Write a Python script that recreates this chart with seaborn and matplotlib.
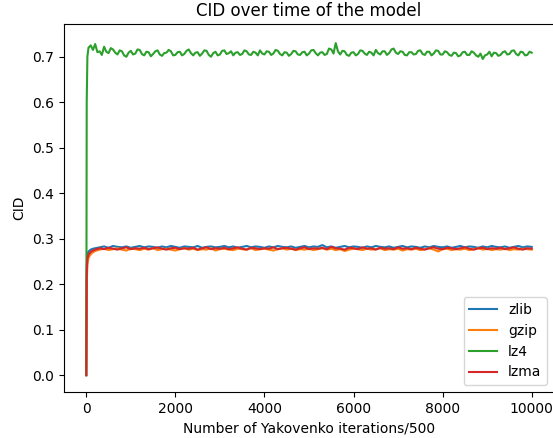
import matplotlib
matplotlib.use("Agg")
import matplotlib.pyplot as plt
import seaborn as sns
import pandas as pd

# ---- data ----
iterations = [0, 10, 25, 50, 100, 150, 200] + list(range(300, 10001, 100))
lz4_iterations = [0, 10, 25, 50, 100, 150, 200, 250] + list(range(300, 10001, 50))

zlib = [0.0, 0.240, 0.265, 0.272, 0.276, 0.278, 0.279,
    0.281,0.283,0.280,0.284,0.282,0.281,0.283,0.280,0.282,0.284,
    0.281,0.283,0.282,0.280,0.283,0.281,0.284,0.282,0.280,0.283,
    0.282,0.281,0.284,0.280,0.282,0.283,0.281,0.282,0.284,0.281,
    0.283,0.280,0.282,0.284,0.281,0.283,0.282,0.280,0.283,0.281,
    0.284,0.282,0.281,0.283,0.280,0.282,0.284,0.281,0.283,0.282,
    0.286,0.281,0.283,0.280,0.282,0.284,0.281,0.283,0.282,0.280,
    0.283,0.281,0.284,0.282,0.281,0.283,0.280,0.282,0.284,0.281,
    0.283,0.282,0.280,0.283,0.281,0.284,0.282,0.281,0.283,0.280,
    0.282,0.284,0.281,0.283,0.282,0.280,0.283,0.281,0.284,0.282,
    0.281,0.283,0.280,0.282,0.284,0.281,0.283,0.282]

gzip = [0.0, 0.200, 0.245, 0.258, 0.266, 0.270, 0.273,
    0.276,0.278,0.275,0.277,0.279,0.276,0.274,0.278,0.277,0.275,
    0.278,0.276,0.279,0.275,0.277,0.278,0.276,0.274,0.277,0.279,
    0.276,0.278,0.275,0.277,0.276,0.279,0.274,0.277,0.278,0.276,
    0.275,0.278,0.277,0.276,0.279,0.275,0.277,0.278,0.276,0.274,
    0.277,0.279,0.276,0.278,0.275,0.277,0.276,0.278,0.275,0.277,
    0.279,0.276,0.278,0.275,0.277,0.273,0.276,0.278,0.277,0.275,
    0.278,0.276,0.277,0.279,0.275,0.277,0.276,0.278,0.274,0.277,
    0.276,0.278,0.275,0.277,0.279,0.276,0.272,0.277,0.278,0.275,
    0.277,0.276,0.278,0.275,0.277,0.279,0.276,0.278,0.275,0.277,
    0.276,0.278,0.275,0.277,0.276,0.278,0.277,0.276]

lz4 = [0.0, 0.600, 0.700, 0.720, 0.725, 0.715, 0.728, 0.710,
    0.712,0.704, 0.722,0.711, 0.708,0.719, 0.716,0.709, 0.705,0.714, 0.712,0.703, 0.700,0.709, 0.713,0.705, 0.707,0.716, 0.715,0.706,
    0.703,0.711, 0.710,0.701, 0.706,0.712, 0.714,0.705, 0.702,0.708, 0.709,0.715, 0.712,0.703, 0.704,0.710, 0.711,0.703, 0.706,0.713,
    0.716,0.708, 0.703,0.709, 0.710,0.702, 0.707,0.714, 0.713,0.704, 0.700,0.708, 0.711,0.703, 0.705,0.713, 0.714,0.706, 0.708,0.712,
    0.703,0.709, 0.710,0.704, 0.706,0.714, 0.712,0.705, 0.704,0.711, 0.709,0.703, 0.714,0.707, 0.705,0.712, 0.711,0.704, 0.707,0.715,
    0.713,0.706, 0.703,0.710, 0.709,0.702, 0.706,0.713, 0.712,0.705, 0.704,0.710, 0.711,0.703, 0.707,0.714, 0.715,0.708, 0.703,0.709,
    0.710,0.704, 0.706,0.718, 0.716,0.707, 0.730,0.712, 0.705,0.713, 0.712,0.704, 0.702,0.709, 0.710,0.703, 0.706,0.714, 0.713,0.707,
    0.704,0.711, 0.709,0.703, 0.715,0.708, 0.705,0.712, 0.712,0.704, 0.708,0.716, 0.718,0.709, 0.706,0.712, 0.711,0.704, 0.703,0.710,
    0.710,0.705, 0.706,0.713, 0.714,0.706, 0.704,0.711, 0.711,0.703, 0.707,0.714, 0.713,0.705, 0.705,0.712, 0.710,0.704, 0.702,0.709,
    0.708,0.701, 0.703,0.710, 0.711,0.704, 0.704,0.712, 0.709,0.703, 0.700,0.707, 0.695,0.703, 0.705,0.711, 0.701,0.709, 0.708,0.702,
    0.704,0.710, 0.712,0.705, 0.706,0.713, 0.714,0.706, 0.703,0.711, 0.710,0.703, 0.704,0.711, 0.709]

lzma = [0.0, 0.220, 0.255, 0.265, 0.271, 0.274, 0.276,
    0.279,0.277,0.280,0.278,0.276,0.279,0.281,0.277,0.279,0.278,
    0.280,0.277,0.279,0.281,0.278,0.276,0.279,0.280,0.277,0.279,
    0.278,0.280,0.276,0.279,0.281,0.277,0.279,0.278,0.280,0.277,
    0.279,0.281,0.278,0.276,0.280,0.279,0.277,0.279,0.278,0.281,
    0.277,0.279,0.280,0.278,0.276,0.279,0.281,0.277,0.279,0.278,
    0.280,0.277,0.282,0.279,0.278,0.276,0.280,0.279,0.277,0.281,
    0.278,0.279,0.276,0.280,0.278,0.279,0.277,0.281,0.278,0.279,
    0.277,0.280,0.278,0.276,0.279,0.281,0.278,0.277,0.280,0.279,
    0.277,0.279,0.281,0.278,0.276,0.279,0.280,0.277,0.279,0.278,
    0.280,0.277,0.279,0.281,0.278,0.276,0.279,0.278]

series_names = ["zlib", "gzip", "lz4", "lzma"]
series_x = [iterations, iterations, lz4_iterations, iterations]
series_values = [zlib, gzip, lz4, lzma]
colors = ["#1f77b4", "#ff7f0e", "#2ca02c", "#d62728"]

frames = []
for name, xs, vals in zip(series_names, series_x, series_values):
    assert len(vals) == len(xs), (name, len(vals), len(xs))
    frames.append(pd.DataFrame({"iter": xs, "CID": vals, "method": name}))
df = pd.concat(frames, ignore_index=True)

plt.rcParams["font.family"] = ["DejaVu Sans"]
fig = plt.figure(figsize=(5.53, 4.38), dpi=100)
ax = fig.add_axes([64 / 553, 46 / 438, 490 / 553, 368 / 438])

sns.lineplot(data=df, x="iter", y="CID", hue="method", hue_order=series_names,
             palette=colors, linewidth=1.5, ax=ax, estimator=None, sort=False)

ax.set_xlim(-500, 10500)
ax.set_ylim(-0.037, 0.772)
ax.set_xticks([0, 2000, 4000, 6000, 8000, 10000])
ax.set_yticks([0.0, 0.1, 0.2, 0.3, 0.4, 0.5, 0.6, 0.7])
ax.set_xlabel("Number of Yakovenko iterations/500", fontsize=10)
ax.set_ylabel("CID", fontsize=10)
ax.set_title("CID over time of the model", fontsize=12)
ax.tick_params(labelsize=10)
ax.legend(loc="lower right", fontsize=10, title=None)

fig.savefig("out.png", dpi=100)
